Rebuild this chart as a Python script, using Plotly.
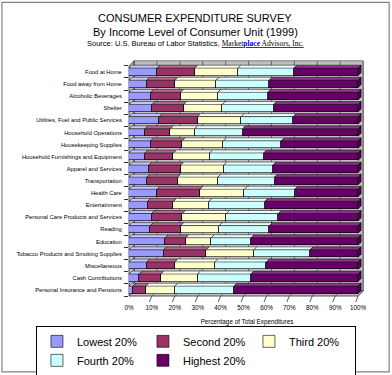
import plotly.graph_objects as go

categories = [
    "Food at Home", "Food away from Home", "Alcoholic Beverages", "Shelter",
    "Utilities, Fuel and Public Services", "Household Operations",
    "Housekeeping Supplies", "Household Furnishings and Equipment",
    "Apparel and Services", "Transportation", "Health Care", "Entertainment",
    "Personal Care Products and Services", "Reading", "Education",
    "Tobacco Products and Smoking Supplies", "Miscellaneous",
    "Cash Contributions", "Personal Insurance and Pensions",
]
lowest = [12.3, 7.8, 9.4, 10.1, 13.2, 7.0, 9.4, 7.0, 8.7, 7.8, 12.3, 8.1, 9.9, 9.3, 15.8, 15.1, 7.8, 4.5, 1.7]
second = [16.4, 12.2, 13.1, 13.8, 16.7, 11.1, 13.8, 12.4, 13.9, 13.4, 18.7, 11.3, 13.4, 13.3, 9.0, 18.7, 12.2, 9.4, 5.7]
third = [18.8, 18.0, 16.2, 16.8, 19.1, 10.6, 18.0, 15.8, 18.8, 17.6, 19.4, 15.5, 19.2, 16.8, 11.1, 20.7, 17.5, 16.0, 12.6]
fourth = [24.4, 23.2, 21.9, 22.5, 22.7, 20.9, 25.3, 23.6, 21.5, 24.7, 21.9, 24.4, 22.7, 21.9, 17.4, 24.5, 22.5, 23.3, 25.8]
highest = [28.1, 38.8, 39.4, 36.8, 28.3, 50.4, 33.5, 41.2, 37.1, 36.5, 27.7, 40.7, 34.8, 38.7, 46.7, 21.0, 40.0, 46.8, 54.2]
series_names = ["Lowest 20%", "Second 20%", "Third 20%", "Fourth 20%", "Highest 20%"]
x_ticks = list(range(0, 101, 10))
x_ticklabels = [f"{v}%" for v in x_ticks]

# styles
colors = ["#9999FF", "#993366", "#FFFFCC", "#CCFFFF", "#660066"]
top_colors = ["#C4C4FF", "#B5668D", "#FFFFE8", "#E8FFFF", "#8A338A"]
end_color = "#4A004A"
wall_color = "#C0C0C0"
grid_color = "#505050"
FONT = "Liberation Sans, Arial, sans-serif"

# geometry (pixels)
W, H = 392, 375
L_PX = 129.0
PX_PER = 2.29
X_MAX = 103
R_PX = L_PX + X_MAX * PX_PER
ROW0 = 71.7
PITCH = 12.13
Y_TOP_V, Y_BOT_V = -0.9, 18.5
T_PX = ROW0 + Y_TOP_V * PITCH
B_PX = ROW0 + Y_BOT_V * PITCH
DEPTH = 5.0
BAR_W = 0.62
BAR_D_PX = 3.0
dxb = BAR_D_PX / PX_PER
dyb = BAR_D_PX / PITCH


def xp(px):
    return (px - L_PX) / (R_PX - L_PX)


def yp(py):
    return (B_PX - py) / (B_PX - T_PX)


series = [lowest, second, third, fourth, highest]
ypos = list(range(len(categories)))

fig = go.Figure()
for name, vals, col in zip(series_names, series, colors):
    fig.add_trace(go.Bar(
        y=ypos, x=vals, name=name, orientation="h", width=BAR_W,
        marker=dict(color=col, line=dict(color="#000000", width=0.6)),
    ))

shapes = []
front_top = ROW0 - 0.5 * PITCH
front_left = L_PX
front_right = L_PX + 100 * PX_PER
# walls
wall_line = dict(color="#606060", width=0.8)
shapes.append(dict(type="rect", xref="paper", yref="paper", layer="below",
                   x0=xp(front_left + DEPTH), x1=xp(front_right + DEPTH),
                   y0=yp(B_PX - DEPTH), y1=yp(front_top - DEPTH),
                   fillcolor=wall_color, line=wall_line))
side = "M{},{} L{},{} L{},{} L{},{} Z".format(
    xp(front_left), yp(front_top), xp(front_left + DEPTH), yp(front_top - DEPTH),
    xp(front_left + DEPTH), yp(B_PX - DEPTH), xp(front_left), yp(B_PX))
shapes.append(dict(type="path", xref="paper", yref="paper", layer="below", path=side,
                   fillcolor=wall_color, line=dict(color="#303030", width=0.8)))
floor = "M{},{} L{},{} L{},{} L{},{} Z".format(
    xp(front_left), yp(B_PX), xp(front_left + DEPTH), yp(B_PX - DEPTH),
    xp(front_right + DEPTH), yp(B_PX - DEPTH), xp(front_right), yp(B_PX))
shapes.append(dict(type="path", xref="paper", yref="paper", layer="below", path=floor,
                   fillcolor=wall_color, line=dict(color="#303030", width=0.8)))
# gridlines on back wall, floor and slanted tick marks
for v in x_ticks:
    shapes.append(dict(type="line", xref="x", yref="paper", layer="below",
                       xsizemode="pixel", xanchor=v, x0=DEPTH, x1=DEPTH,
                       y0=yp(B_PX - DEPTH), y1=yp(front_top - DEPTH),
                       line=dict(color=grid_color, width=0.8)))
    shapes.append(dict(type="line", xref="x", yref="paper", layer="below",
                       xsizemode="pixel", xanchor=v, x0=DEPTH, x1=0,
                       y0=yp(B_PX - DEPTH), y1=yp(B_PX),
                       line=dict(color=grid_color, width=0.8)))
    shapes.append(dict(type="line", xref="x", yref="paper", layer="below",
                       xsizemode="pixel", xanchor=v, x0=0, x1=-2.5,
                       y0=yp(B_PX), y1=yp(B_PX + 6),
                       line=dict(color="#303030", width=0.8)))
# 3D faces of bars
for i in ypos:
    start = 0.0
    yt = i - BAR_W / 2
    yb = i + BAR_W / 2
    for j, vals in enumerate(series):
        end = start + vals[i]
        path = "M{},{} L{},{} L{},{} L{},{} Z".format(
            start, yt, start + dxb, yt - dyb, end + dxb, yt - dyb, end, yt)
        shapes.append(dict(type="path", xref="x", yref="y", layer="above", path=path,
                           fillcolor=top_colors[j], line=dict(color="#000000", width=0.5)))
        start = end
    path = "M{},{} L{},{} L{},{} L{},{} Z".format(
        start, yt, start + dxb, yt - dyb, start + dxb, yb - dyb, start, yb)
    shapes.append(dict(type="path", xref="x", yref="y", layer="above", path=path,
                       fillcolor=end_color, line=dict(color="#000000", width=0.5)))
# outer frame
shapes.append(dict(type="rect", xref="paper", yref="paper", layer="below",
                   x0=xp(2), x1=xp(389), y0=yp(372), y1=yp(2),
                   line=dict(color="#808080", width=1.2)))

annotations = [
    dict(text="CONSUMER EXPENDITURE SURVEY", x=xp(195), y=yp(17.5),
         font=dict(size=11, family=FONT, color="#000000")),
    dict(text="By Income Level of Consumer Unit (1999)", x=xp(195), y=yp(32),
         font=dict(size=11, family=FONT, color="#000000")),
    dict(text="Source: U.S. Bureau of Labor Statistics, "
              "<span style=\"font-family:'Liberation Serif',serif;text-decoration:underline\">Market"
              "<span style=\"color:#0000EE;font-weight:bold\">place</span> Advisors, Inc.</span>",
         x=xp(195), y=yp(43.5), font=dict(size=7.5, family=FONT, color="#000000")),
]
for a in annotations:
    a.update(xref="paper", yref="paper", showarrow=False, xanchor="center", yanchor="middle")

fig.update_layout(
    width=W, height=H, barmode="stack", bargap=0,
    margin=dict(l=L_PX, r=W - R_PX, t=T_PX, b=H - B_PX, pad=0, autoexpand=False),
    paper_bgcolor="#FFFFFF", plot_bgcolor="rgba(0,0,0,0)",
    font=dict(family=FONT, color="#000000"),
    shapes=shapes, annotations=annotations,
    showlegend=True,
    legend=dict(orientation="h", x=xp(36), xanchor="left", y=yp(326), yanchor="top",
                bordercolor="#000000", borderwidth=1, bgcolor="#FFFFFF",
                font=dict(size=11, family=FONT, color="#000000"),
                entrywidth=61, entrywidthmode="pixels", traceorder="normal",
                tracegroupgap=0, itemclick=False),
    xaxis=dict(range=[0, X_MAX], tickvals=x_ticks, ticktext=x_ticklabels,
               showgrid=False, zeroline=False, showline=False,
               ticks="outside", ticklen=5, tickcolor="rgba(0,0,0,0)",
               tickfont=dict(size=6.3, family=FONT, color="#000000"),
               title=dict(text="Percentage of Total Expenditures", standoff=10,
                          font=dict(size=6.3, family=FONT, color="#000000"))),
    yaxis=dict(range=[Y_BOT_V, Y_TOP_V], tickvals=ypos, ticktext=categories,
               showgrid=False, zeroline=False, showline=False,
               ticks="outside", ticklen=5, tickcolor="rgba(0,0,0,0)",
               tickfont=dict(size=5.8, family=FONT, color="#000000"),
               minor=dict(tickmode="array", tickvals=[i - 0.5 for i in range(len(categories) + 1)],
                          ticks="outside", ticklen=4, tickcolor="#303030", showgrid=False)),
)

fig.write_html("out.html", config={"displayModeBar": False},
               post_script="document.body.style.margin='0';")
